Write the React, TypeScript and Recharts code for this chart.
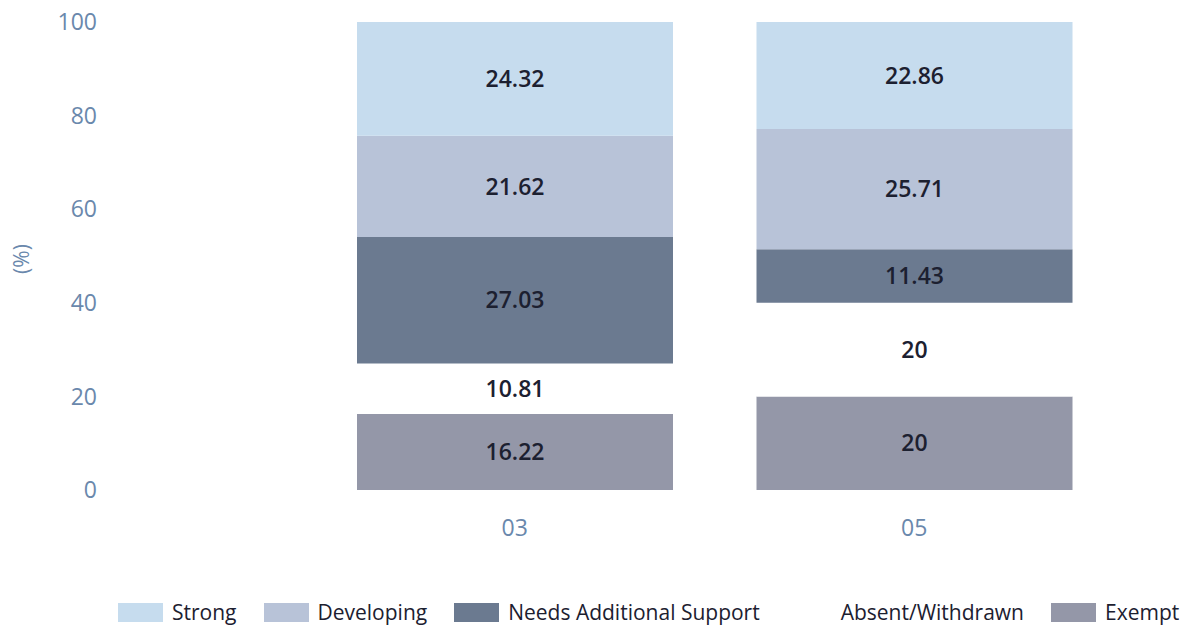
import React from 'react';
import { BarChart, Bar, XAxis, YAxis, Legend, LabelList } from 'recharts';

const categories = ['03', '05'];
const exempt = [16.22, 20];
const absent = [10.81, 20];
const needs = [27.03, 11.43];
const developing = [21.62, 25.71];
const strong = [24.32, 22.86];
const yTicks = [0, 20, 40, 60, 80, 100];

const seriesNames = ['Strong', 'Developing', 'Needs Additional Support', 'Absent/Withdrawn', 'Exempt'];
const seriesKeys = ['strong', 'developing', 'needs', 'absent', 'exempt'];
const seriesColors = ['#c6dcee', '#b8c3d8', '#6b7a90', '#ffffff', '#9497a8'];

const data = categories.map((c, i) => ({
  cat: c,
  exempt: exempt[i],
  absent: absent[i],
  needs: needs[i],
  developing: developing[i],
  strong: strong[i],
}));

const FONT = '"Open Sans", "Noto Sans", sans-serif';
const TICK_COLOR = '#6a88ac';

const LegendContent = () => (
  <div style={{ display: 'flex', alignItems: 'center', fontFamily: FONT, fontSize: 21, color: '#1c2030' }}>
    {seriesNames.map((n, i) => (
      <div key={n} style={{ display: 'flex', alignItems: 'center', marginRight: 27 }}>
        <div style={{ width: 45, height: 19, background: seriesColors[i], marginRight: 9 }} />
        <span>{n}</span>
      </div>
    ))}
  </div>
);

const labelStyle = { fontFamily: FONT, fontSize: 23, fontWeight: 600, fill: '#1c2030' };

export default function App() {
  const order = [4, 3, 2, 1, 0];
  return (
    <div style={{ position: 'absolute', left: 0, top: 0, width: 1182, height: 626, background: '#fff' }}>
      <BarChart
        width={1182}
        height={626}
        data={data}
        margin={{ top: 22, right: 68, left: 0, bottom: 96 }}
      >
        <YAxis
          width={105}
          domain={[0, 100]}
          ticks={yTicks}
          axisLine={false}
          tickLine={false}
          tickSize={0}
          tickMargin={8}
          tick={{ fontFamily: FONT, fontSize: 23, fill: TICK_COLOR }}
          label={{ value: '(%)', angle: -90, position: 'center', dx: -31, dy: 3, style: { fontFamily: FONT, fontSize: 21, fill: TICK_COLOR } }}
        />
        <XAxis
          dataKey="cat"
          height={40}
          padding={{ left: 210, right: 0 }}
          axisLine={false}
          tickLine={false}
          tickSize={0}
          tickMargin={30}
          tick={{ fontFamily: FONT, fontSize: 23, fill: TICK_COLOR }}
        />
        <Legend
          layout="horizontal"
          verticalAlign="middle"
          align="center"
          wrapperStyle={{ top: 598, left: 118, width: 1100 }}
          content={LegendContent}
        />
        {order.map((i) => (
          <Bar
            key={seriesKeys[i]}
            dataKey={seriesKeys[i]}
            name={seriesNames[i]}
            stackId="a"
            fill={seriesColors[i]}
            barSize={316}
            isAnimationActive={false}
          >
            <LabelList dataKey={seriesKeys[i]} position="center" style={labelStyle} />
          </Bar>
        ))}
      </BarChart>
    </div>
  );
}
